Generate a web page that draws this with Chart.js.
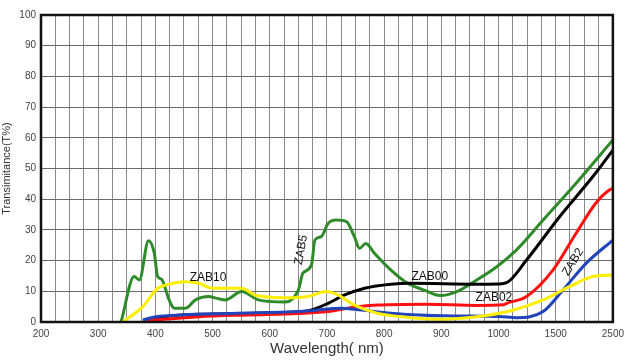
<!DOCTYPE html>
<html>
<head>
<meta charset="utf-8">
<script src="https://cdn.jsdelivr.net/npm/chart.js@4.4.0/dist/chart.umd.min.js"></script>
<style>
  html, body { margin: 0; background: #fff; }
  #wrap { width: 630px; height: 360px; }
</style>
</head>
<body>
<div id="wrap"><canvas id="chart"></canvas></div>
<script>
// Tick labels of the (broken) wavelength axis, one per major gridline
const xTickLabels = ['200', '300', '400', '500', '600', '700', '800', '900', '1000', '1500', '2500'];
const yTicks = [0, 10, 20, 30, 40, 50, 60, 70, 80, 90, 100];

// Curves: wavelength (nm) and transmittance (%)
const zab5Wl = [340, 363, 372, 388, 398, 404, 411, 424, 433, 453, 470, 493, 508, 522, 551, 580, 627, 650, 658, 673, 679, 690, 702, 716, 734, 748, 757, 768, 783, 812, 841, 870, 898, 927, 962, 997, 1158, 1390, 1857, 2500];
const zab5T  = [0, 14.8, 13.7, 26.5, 22.5, 14.8, 13.9, 7.2, 4.5, 4.5, 7.2, 8.3, 7.7, 7.2, 9.9, 7.2, 6.5, 10.4, 15.9, 18.6, 26.7, 27.8, 32.1, 33.2, 32.7, 27.8, 24, 25.6, 22.4, 16.9, 12.6, 10.4, 8.6, 9.9, 13.7, 18, 23.5, 33.2, 45.2, 59.3];

const zab00Wl = [385, 420, 500, 600, 650, 673, 702, 731, 766, 812, 846, 962, 1000, 1071, 1245, 1568, 2147, 2500];
const zab00T  = [0, 1.8, 2.6, 2.9, 3.2, 3.9, 6.1, 8.8, 11, 12.3, 12.6, 12.3, 12.4, 12.8, 20.2, 34.3, 47.3, 56];

const zab02Wl = [385, 476, 563, 650, 702, 748, 789, 875, 962, 1042, 1071, 1245, 1476, 1857, 2200, 2437, 2500];
const zab02T  = [0.4, 1.7, 2.3, 2.8, 3.4, 4.8, 5.5, 5.8, 5.4, 5.6, 6.1, 8.3, 16.9, 28.9, 38.7, 43, 43.5];

const zab2Wl = [378, 401, 447, 534, 650, 673, 725, 760, 818, 904, 1000, 1158, 1390, 1627, 2031, 2500];
const zab2T  = [0.7, 1.7, 2.3, 2.8, 3.4, 3.7, 4.5, 3.9, 2.8, 2, 1.8, 1.4, 3.4, 10.4, 19.1, 26.7];

const zab10Wl = [343, 378, 404, 418, 453, 476, 499, 534, 551, 574, 627, 667, 699, 719, 748, 789, 846, 904, 962, 1100, 1390, 1740, 2147, 2500];
const zab10T  = [0, 5, 11, 12, 13.1, 12.6, 11, 11, 11, 8.8, 7.9, 8.3, 9.9, 8.8, 5.5, 2.8, 1.4, 0.9, 1.7, 3.6, 7.2, 11.5, 14.8, 15.3];

// Curve names written on the plot
const curveNames = [
    { text: 'ZAB10', wl: 492, t: 14.5, rot: 0 },
    { text: 'ZAB5',  wl: 655, t: 23.5, rot: -80 },
    { text: 'ZAB00', wl: 880, t: 14.7, rot: 0 },
    { text: 'ZAB02', wl: 992, t: 7.8,  rot: 0 },
    { text: 'ZAB2',  wl: 1805, t: 19.5, rot: -58 }
];

// The axis is linear 200-1000, then 1000-1500 and 1500-2500 each take one division
function wlToPos(wl) {
    if (wl <= 1000) return (wl - 200) / 100;
    if (wl <= 1500) return 8 + (wl - 1000) / 500;
    return 9 + (wl - 1500) / 1000;
}

function toPoints(wl, t) {
    return wl.map((w, i) => ({ x: wlToPos(w), y: t[i] }));
}

function series(label, wl, t, color) {
    return {
        label: label,
        data: toPoints(wl, t),
        borderColor: color,
        backgroundColor: color,
        borderWidth: 3,
        pointRadius: 0,
        cubicInterpolationMode: 'monotone',
        fill: false
    };
}

// Thick frame around the plot plus the curve names
const framePlugin = {
    id: 'frame',
    afterDatasetsDraw(chart) {
        const c = chart.ctx;
        const a = chart.chartArea;
        const xs = chart.scales.x, ys = chart.scales.y;
        c.save();
        c.strokeStyle = '#111';
        c.lineWidth = 2.5;
        c.strokeRect(a.left, a.top, a.right - a.left, a.bottom - a.top);
        c.fillStyle = '#111';
        c.font = '12px "Liberation Sans", Arial, sans-serif';
        c.textAlign = 'center';
        c.textBaseline = 'middle';
        curveNames.forEach(n => {
            c.save();
            c.translate(xs.getPixelForValue(wlToPos(n.wl)), ys.getPixelForValue(n.t));
            c.rotate(n.rot * Math.PI / 180);
            c.fillText(n.text, 0, 0);
            c.restore();
        });
        c.restore();
    }
};

const ctx = document.getElementById('chart').getContext('2d');
new Chart(ctx, {
    type: 'line',
    data: {
        datasets: [
            series('ZAB10', zab10Wl, zab10T, '#ffee00'),
            series('ZAB2', zab2Wl, zab2T, '#2244bb'),
            series('ZAB02', zab02Wl, zab02T, '#ff1010'),
            series('ZAB00', zab00Wl, zab00T, '#000000'),
            series('ZAB5', zab5Wl, zab5T, '#2f8a2a')
        ]
    },
    options: {
        responsive: true,
        maintainAspectRatio: false,
        animation: false,
        layout: { padding: { left: 0, right: 13, top: 15, bottom: 0 } },
        plugins: {
            legend: { display: false },
            tooltip: { enabled: false }
        },
        scales: {
            x: {
                type: 'linear',
                min: 0,
                max: 10,
                afterFit(s) { s.height = 38; },
                afterBuildTicks(s) {
                    const t = [];
                    for (let i = 0; i <= 40; i++) t.push({ value: i / 4 });
                    s.ticks = t;
                },
                grid: { color: '#8a8a8a', lineWidth: 1, drawTicks: false },
                border: { display: false },
                ticks: {
                    autoSkip: false,
                    maxRotation: 0,
                    padding: 6,
                    color: '#444',
                    font: { size: 10, family: '"Liberation Sans", Arial, sans-serif' },
                    callback(v) {
                        const r = Math.round(v);
                        return Math.abs(v - r) < 1e-6 ? xTickLabels[r] : '';
                    }
                },
                title: {
                    display: true,
                    text: 'Wavelength( nm)',
                    color: '#333',
                    padding: { top: 0, bottom: 2 },
                    font: { size: 15, family: '"Liberation Sans", Arial, sans-serif' }
                }
            },
            y: {
                min: 0,
                max: 100,
                afterFit(s) { s.width = 41; },
                afterBuildTicks(s) { s.ticks = yTicks.map(v => ({ value: v })); },
                grid: { color: '#6a6a6a', lineWidth: 1, drawTicks: false },
                border: { display: false },
                ticks: {
                    padding: 5,
                    color: '#444',
                    font: { size: 10, family: '"Liberation Sans", Arial, sans-serif' }
                },
                title: {
                    display: true,
                    text: 'Transimitance(T%)',
                    color: '#333',
                    padding: { top: 0, bottom: 0 },
                    font: { size: 11, family: '"Liberation Sans", Arial, sans-serif' }
                }
            }
        }
    },
    plugins: [framePlugin]
});
</script>
</body>
</html>
